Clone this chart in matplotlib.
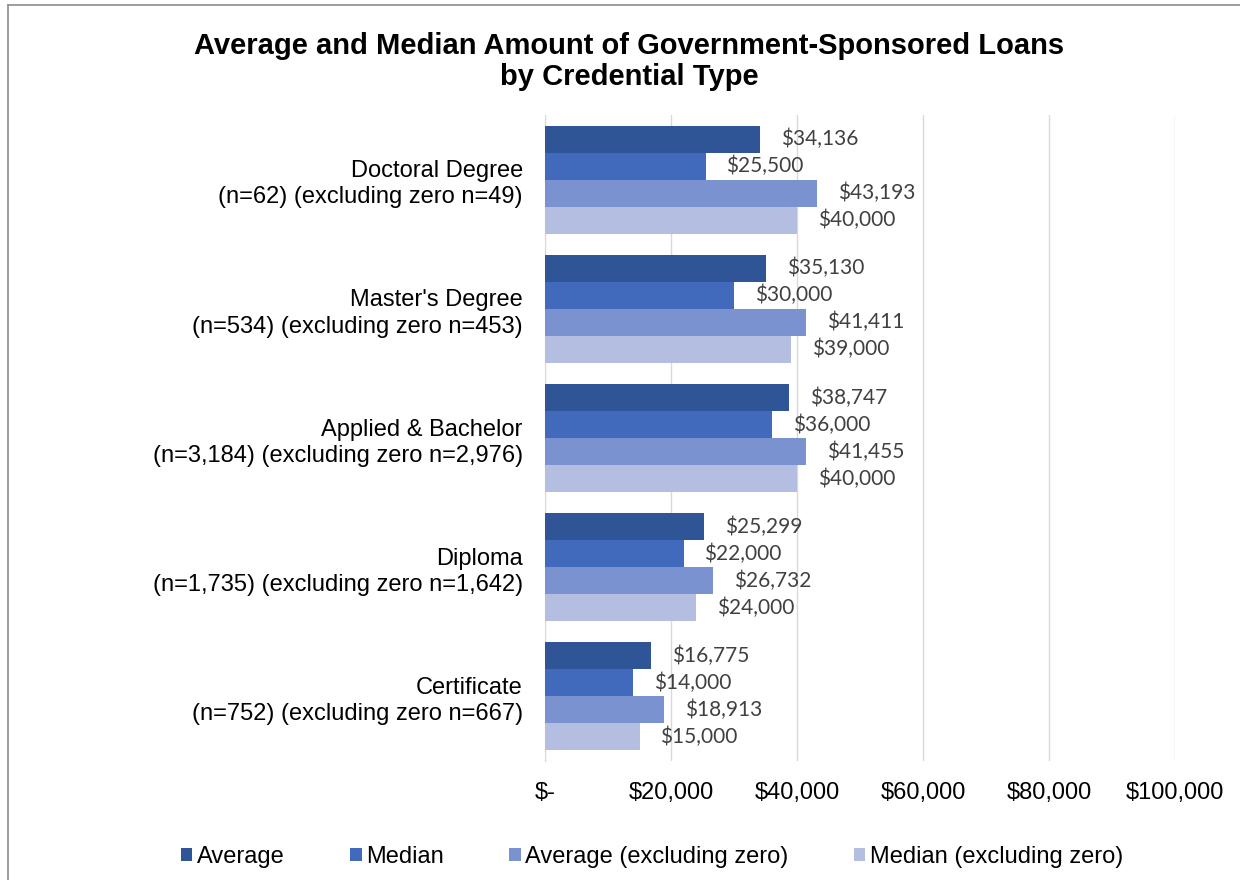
import matplotlib
matplotlib.use('Agg')
import numpy as np
import matplotlib.pyplot as plt
from matplotlib.lines import Line2D
from matplotlib.ticker import FuncFormatter

plt.rcParams['font.family'] = 'Liberation Sans'

# loan amounts by credential type (top to bottom as drawn)
categories = ["Doctoral Degree\n(n=62) (excluding zero n=49)",
              "Master's Degree\n(n=534) (excluding zero n=453)",
              "Applied & Bachelor\n(n=3,184) (excluding zero n=2,976)",
              "Diploma\n(n=1,735) (excluding zero n=1,642)",
              "Certificate\n(n=752) (excluding zero n=667)"]
average = [34136, 35130, 38747, 25299, 16775]
median = [25500, 30000, 36000, 22000, 14000]
average_nz = [43193, 41411, 41455, 26732, 18913]
median_nz = [40000, 39000, 40000, 24000, 15000]

series = [("Average", average, '#2F5597'),
          ("Median", median, '#4169BC'),
          ("Average (excluding zero)", average_nz, '#7A92D0'),
          ("Median (excluding zero)", median_nz, '#B3BEE0')]

fig = plt.figure(figsize=(12.4, 8.8), dpi=100)
ax = fig.add_axes([545/1240, 1-761/880, (1175-545)/1240, (761-115)/880])

pos = np.arange(len(categories))
h = 0.209
for i, (name, vals, col) in enumerate(series):
    y = pos - 1.5*h + i*h
    bars = ax.barh(y, vals, height=h, color=col, label=name, zorder=3)
    for b, v in zip(bars, vals):
        ax.annotate('${:,.0f}'.format(v), (v, b.get_y() + h/2),
                    xytext=(15, 0), textcoords='offset points',
                    va='center', ha='left', fontsize=15, color='#404040',
                    family='Lato')

ax.set_ylim(len(categories) - 0.5, -0.5)
ax.set_xlim(0, 100000)
ax.set_yticks(pos)
ax.set_yticklabels(categories, fontsize=17, linespacing=1.25)
ax.set_xticks(np.arange(0, 100001, 20000))
ax.xaxis.set_major_formatter(FuncFormatter(lambda x, p: '$-' if x == 0 else '${:,.0f}'.format(x)))
ax.tick_params(axis='x', length=0, pad=15, labelsize=17)
ax.tick_params(axis='y', length=0, pad=16)
ax.grid(axis='x', color='#D9D9D9', lw=1, zorder=0)
for s in ['top', 'right', 'bottom']:
    ax.spines[s].set_visible(False)
ax.spines['left'].set_color('#D9D9D9')

fig.text(629/1240, 1-32/880,
         'Average and Median Amount of Government-Sponsored Loans\nby Credential Type',
         ha='center', va='top', fontsize=21, fontweight='bold', linespacing=1.12)

fig.legend(loc='center', bbox_to_anchor=(652/1240, 1-857/880), ncol=4, frameon=False,
           fontsize=17, handlelength=0.5, handleheight=0.5, handletextpad=0.2,
           columnspacing=2.75)

# outer frame of the chart area
fig.add_artist(Line2D([7.5/1240, 7.5/1240], [0, 1-5/880], transform=fig.transFigure,
                      color='#8C8C8C', lw=1.2))
fig.add_artist(Line2D([7.5/1240, 1], [1-5/880, 1-5/880], transform=fig.transFigure,
                      color='#8C8C8C', lw=1.2))

fig.savefig('out.png', dpi=100)
